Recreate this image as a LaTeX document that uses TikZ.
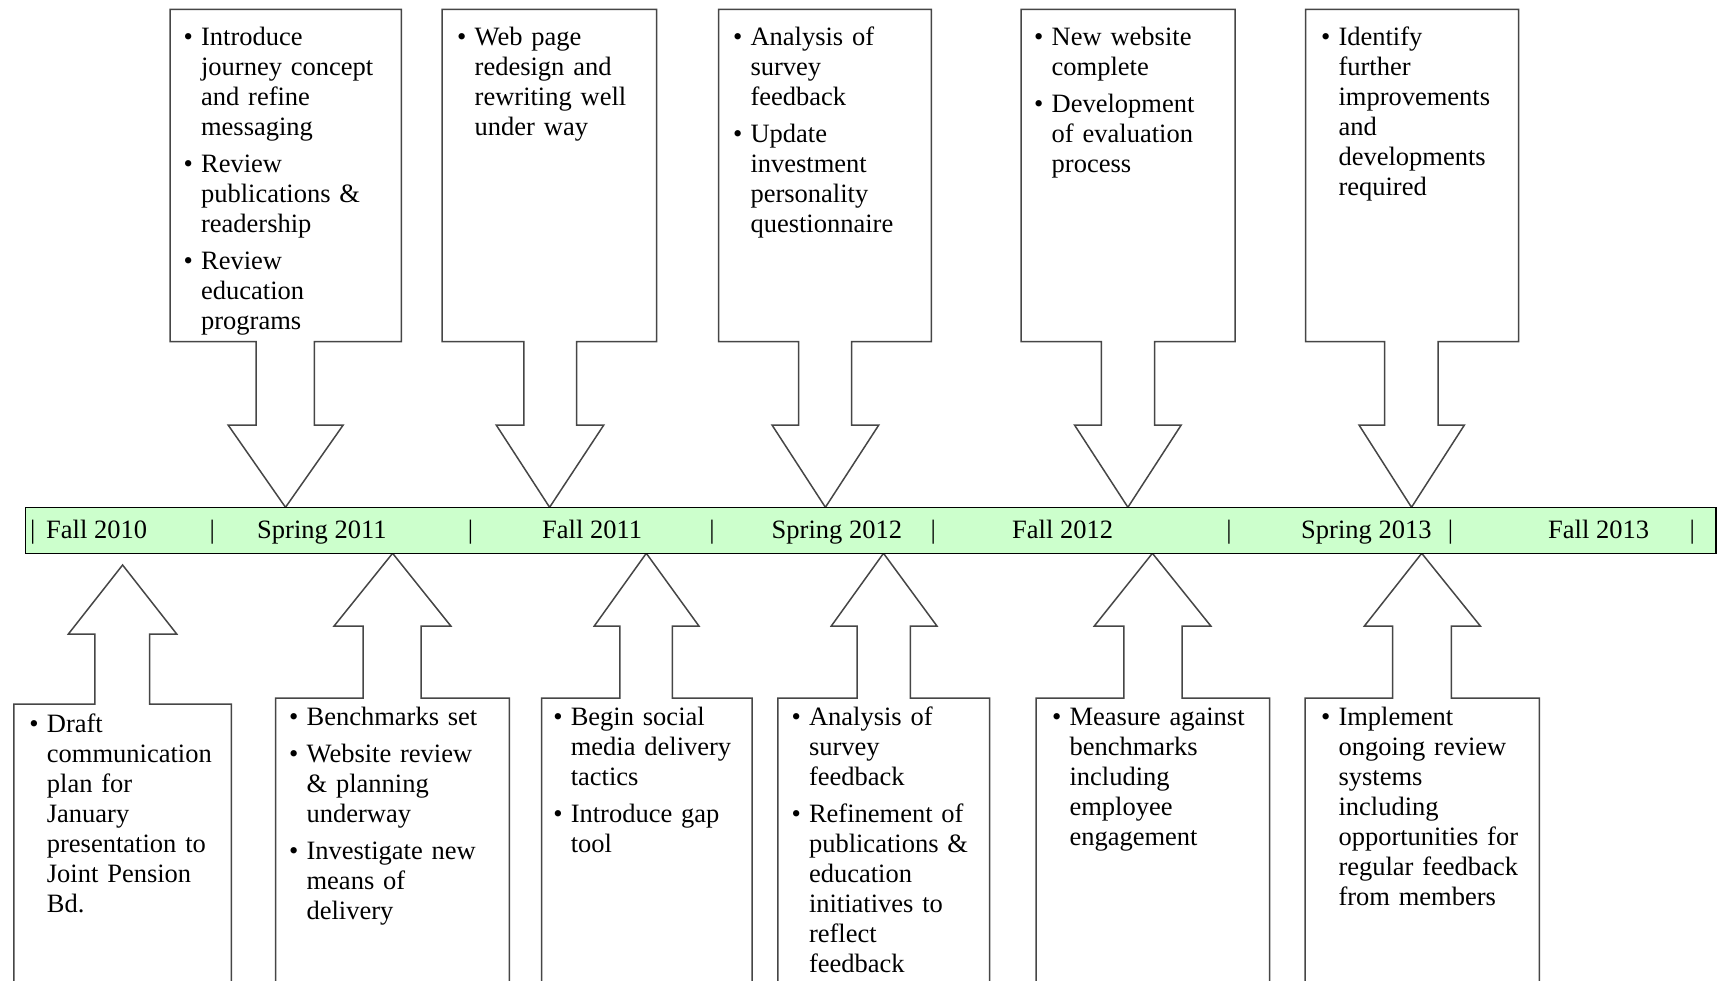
\documentclass[tikz,border=0pt]{standalone}
\usepackage{fontspec}
\setmainfont{Liberation Serif}
\newcommand\bl[1]{\par\noindent\hangindent=17.5pt\hangafter=1\makebox[17.5pt][l]{\textbullet}\strut#1\par}
\newcommand\gap{\vspace{7pt}}
\definecolor{tlgreen}{RGB}{204,255,204}
\definecolor{edgegray}{RGB}{70,70,70}
\tikzset{
 callout/.style={draw=edgegray, fill=white, line width=1.5pt, line join=miter},
 txt/.style={anchor=north west, inner sep=0pt, text width=260pt, font=\fontsize{26.5pt}{30pt}\selectfont},
 lbl/.style={anchor=base west, inner sep=0pt, font=\fontsize{26.5pt}{30pt}\selectfont},
 bar/.style={anchor=base, inner sep=0pt, font=\fontsize{26.5pt}{30pt}\selectfont},
 timeline/.style={draw=black, fill=tlgreen, line width=1.6pt, minimum width=1690.6pt, minimum height=46pt, inner sep=0pt}
}
\begin{document}
\begin{tikzpicture}[x=1pt,y=-1pt]
\useasboundingbox (0,0) rectangle (1718,981);
\clip (0,0) rectangle (1718,981);
% top callouts
\draw[callout] (170,9.3) -- (401.3,9.3) -- (401.3,341.7) -- (314.3,341.7) -- (314.3,425) -- (343.2,425) -- (285.5,507.3) -- (228.1,425) -- (256.2,425) -- (256.2,341.7) -- (170,341.7) -- cycle;
\draw[callout] (442.1,9.3) -- (656.5,9.3) -- (656.5,341.7) -- (576.5,341.7) -- (576.5,425) -- (603.8,425) -- (549.6,507.3) -- (496.2,425) -- (523.9,425) -- (523.9,341.7) -- (442.1,341.7) -- cycle;
\draw[callout] (718.6,9.3) -- (931.4,9.3) -- (931.4,341.7) -- (851.5,341.7) -- (851.5,425) -- (878.8,425) -- (825.4,507.3) -- (772,425) -- (798.5,425) -- (798.5,341.7) -- (718.6,341.7) -- cycle;
\draw[callout] (1021.1,9.3) -- (1235.1,9.3) -- (1235.1,341.7) -- (1154.7,341.7) -- (1154.7,425) -- (1181.2,425) -- (1127.9,507.3) -- (1074.5,425) -- (1101.4,425) -- (1101.4,341.7) -- (1021.1,341.7) -- cycle;
\draw[callout] (1305.7,9.3) -- (1518.7,9.3) -- (1518.7,341.7) -- (1438,341.7) -- (1438,425) -- (1464.4,425) -- (1411.5,507.3) -- (1359,425) -- (1384.7,425) -- (1384.7,341.7) -- (1305.7,341.7) -- cycle;
% bottom callouts
\draw[callout] (13.8,1000) -- (13.8,704) -- (94.9,704) -- (94.9,634) -- (68.4,634) -- (122.6,565) -- (176.7,634) -- (149.5,634) -- (149.5,704) -- (231.3,704) -- (231.3,1000);
\draw[callout] (275.6,1000) -- (275.6,698) -- (363,698) -- (363,626) -- (334.1,626) -- (392.6,553.3) -- (450.8,626) -- (421.1,626) -- (421.1,698) -- (509.3,698) -- (509.3,1000);
\draw[callout] (541.7,1000) -- (541.7,698) -- (619.8,698) -- (619.8,626) -- (594.3,626) -- (646.3,553.3) -- (698.9,626) -- (672.4,626) -- (672.4,698) -- (752.2,698) -- (752.2,1000);
\draw[callout] (777.9,1000) -- (777.9,698) -- (857,698) -- (857,626) -- (831.3,626) -- (883.5,553.3) -- (936.9,626) -- (910.4,626) -- (910.4,698) -- (989.5,698) -- (989.5,1000);
\draw[callout] (1036.1,1000) -- (1036.1,698) -- (1123.9,698) -- (1123.9,626) -- (1094.3,626) -- (1152.4,553.3) -- (1210.8,626) -- (1182,626) -- (1182,698) -- (1269.5,698) -- (1269.5,1000);
\draw[callout] (1305,1000) -- (1305,698) -- (1392.7,698) -- (1392.7,626) -- (1364.4,626) -- (1421.7,553.3) -- (1480.3,626) -- (1451.4,626) -- (1451.4,698) -- (1539.4,698) -- (1539.4,1000);
% timeline
\node[timeline] (tl) at (870.8,530.3) {};
\node[bar] (b1) at (32.8,538) {|};
\node[lbl] (f10) at (46,538) {Fall 2010};
\node[bar] (b2) at (212.3,538) {|};
\node[lbl] (s11) at (257,538) {Spring 2011};
\node[bar] (b3) at (470.5,538) {|};
\node[lbl] (f11) at (542,538) {Fall 2011};
\node[bar] (b4) at (711.9,538) {|};
\node[lbl] (s12) at (771.5,538) {Spring 2012};
\node[bar] (b5) at (933.3,538) {|};
\node[lbl] (f12) at (1012,538) {Fall 2012};
\node[bar] (b6) at (1229,538) {|};
\node[lbl] (s13) at (1301,538) {Spring 2013};
\node[bar] (b7) at (1450.6,538) {|};
\node[lbl] (f13) at (1548,538) {Fall 2013};
\node[bar] (b8) at (1692.2,538) {|};
% top texts
\node[txt] (ta) at (183.4,15) {\bl{Introduce\newline journey concept\newline and refine\newline messaging}\gap\bl{Review\newline publications \&\newline readership}\gap\bl{Review\newline education\newline programs}};
\node[txt] (tb) at (457,15) {\bl{Web page\newline redesign and\newline rewriting well\newline under way}};
\node[txt] (tc) at (732.8,15) {\bl{Analysis of\newline survey\newline feedback}\gap\bl{Update\newline investment\newline personality\newline questionnaire}};
\node[txt] (td) at (1034,15) {\bl{New website\newline complete}\gap\bl{Development\newline of evaluation\newline process}};
\node[txt] (te) at (1320.8,15) {\bl{Identify\newline further\newline improvements\newline and\newline developments\newline required}};
% bottom texts
\node[txt] (bf) at (29.2,702.2) {\bl{Draft\newline communication\newline plan for\newline January\newline presentation to\newline Joint Pension\newline Bd.}};
\node[txt] (bg) at (288.9,695.6) {\bl{Benchmarks set}\gap\bl{Website review\newline \& planning\newline underway}\gap\bl{Investigate new\newline means of\newline delivery}};
\node[txt] (bh) at (553.1,695.6) {\bl{Begin social\newline media delivery\newline tactics}\gap\bl{Introduce gap\newline tool}};
\node[txt] (bi) at (791.3,695.6) {\bl{Analysis of\newline survey\newline feedback}\gap\bl{Refinement of\newline publications \&\newline education\newline initiatives to\newline reflect\newline feedback}};
\node[txt] (bj) at (1051.8,695.6) {\bl{Measure against\newline benchmarks\newline including\newline employee\newline engagement}};
\node[txt] (bk) at (1320.8,695.6) {\bl{Implement\newline ongoing review\newline systems\newline including\newline opportunities for\newline regular feedback\newline from members}};
\end{tikzpicture}
\end{document}
